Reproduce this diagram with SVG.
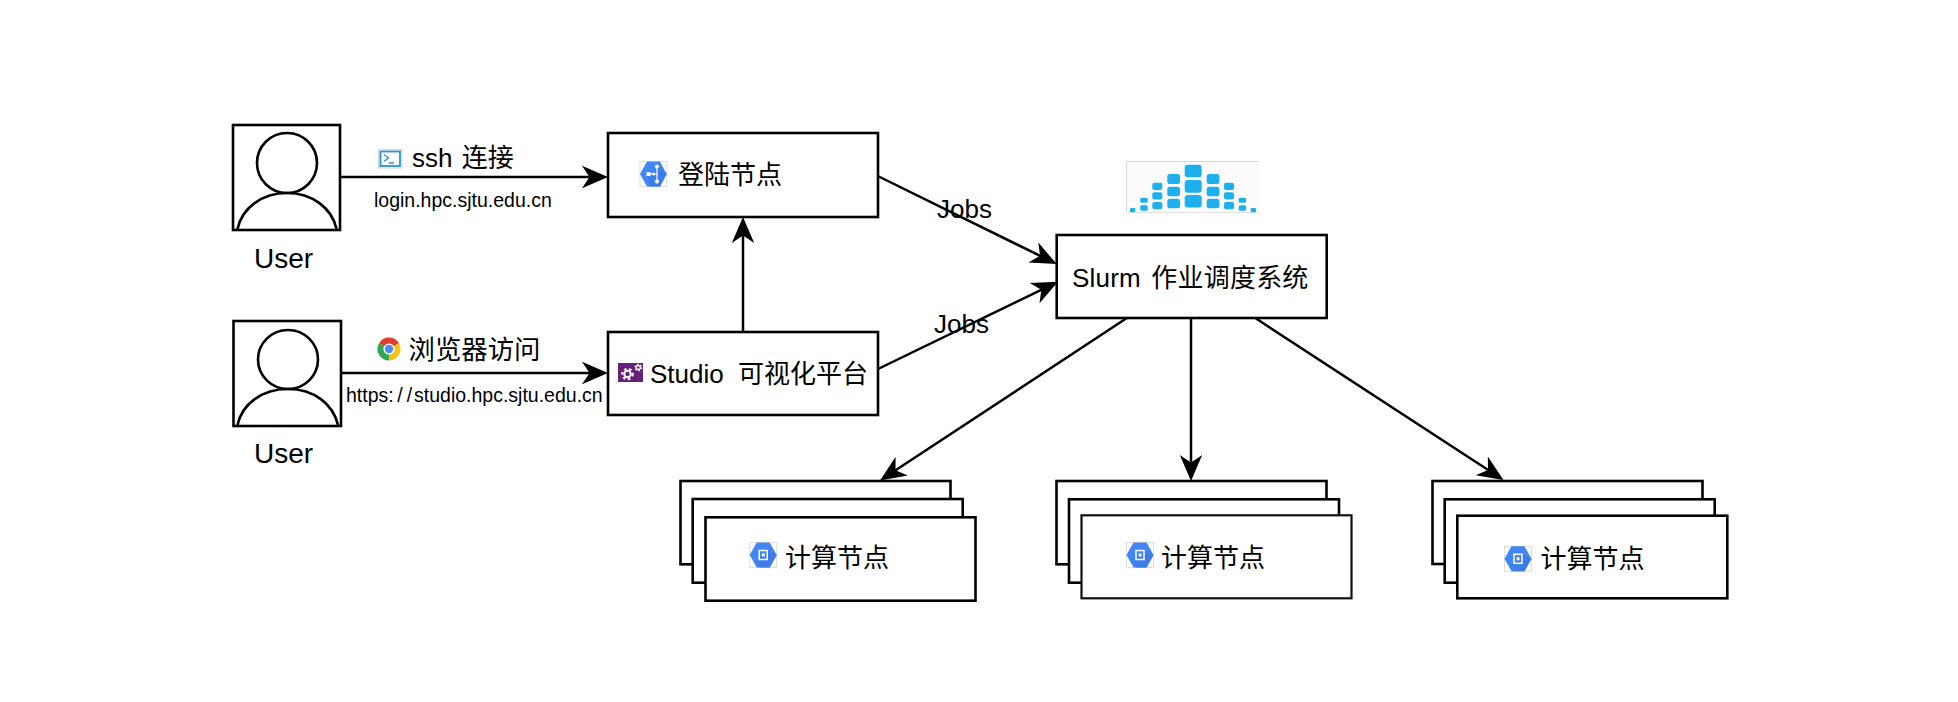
<svg xmlns="http://www.w3.org/2000/svg" width="1958" height="702" viewBox="0 0 1958 702">
<defs>
<style>
text{font-family:"Liberation Sans","Noto Sans CJK SC",sans-serif;fill:#000}
.t{font-size:26px}
.u{font-size:28px}
.s{font-size:19.5px}
.b{fill:#fff;stroke:#000;stroke-width:2.6}
.o{fill:none;stroke:#000;stroke-width:2.6}
.c{fill:none;stroke:#000;stroke-width:2.5;marker-end:url(#ah)}
.hex{fill:#4285f4}
.ib{fill:#fff;stroke:#ddd;stroke-width:1}
.sl{fill:#1cb0ec}
</style>
<marker id="ah" markerUnits="userSpaceOnUse" markerWidth="26" markerHeight="24" viewBox="0 0 26 24" refX="21" refY="12" orient="auto">
<path d="M26 12L0 .8 7.5 12 0 23.2Z" fill="#000"/>
</marker>
<g id="chipIcon">
<rect class="ib" x="0" y="0" width="27" height="25"/>
<path class="hex" d="M0 12.5L7 0H20L27 12.5 20 25H7Z"/>
<path d="M27 12.5L20 25H10L7 17 19 8Z" fill="#3f7de6"/>
<rect x="9.5" y="8" width="8" height="9" fill="none" stroke="#fff" stroke-width="1.5"/>
<rect x="12.2" y="11" width="2.8" height="3" fill="#fff"/>
</g>
</defs>
<rect width="1958" height="702" fill="#fff"/>

<g id="connectors">
<line class="c" x1="340" y1="177" x2="603" y2="177"/>
<line class="c" x1="341" y1="373" x2="603" y2="373"/>
<line class="c" x1="743" y1="332" x2="743" y2="222"/>
<line class="c" x1="877.7" y1="176" x2="1052.2" y2="261.8"/>
<line class="c" x1="878" y1="369" x2="1053.5" y2="283.9"/>
</g>

<g id="user1">
<rect class="b" x="233" y="125" width="107" height="105"/>
<ellipse class="o" cx="287" cy="163" rx="30" ry="30"/>
<path class="o" d="M237.500 229C242 208 262 193 287 193S332 208 336.500 229"/>
<text class="u" x="254" y="268">User</text>
</g>
<g id="user2">
<rect class="b" x="233.500" y="321" width="107.500" height="105"/>
<ellipse class="o" cx="288" cy="359.500" rx="30" ry="29.500"/>
<path class="o" d="M237.500 425C242 404 262 389 288 389S333 404 338 425"/>
<text class="u" x="254" y="463">User</text>
</g>

<g id="ssh-label">
<rect x="378.500" y="149.500" width="23.500" height="18.500" fill="#f3f8fd" stroke="#d5d5d5" stroke-width="1"/>
<rect x="380.500" y="151.500" width="19.500" height="14.500" fill="#fff" stroke="#2b8fd8" stroke-width="1.800"/>
<path d="M384 154.500L388.500 158 384 161.500M389 163H394" fill="none" stroke="#2b8fd8" stroke-width="1.300"/>
<text class="t" x="412" y="167">ssh <tspan dx="2">连接</tspan></text>
<text class="s" x="374" y="207">login.hpc.sjtu.edu.cn</text>
</g>
<g id="browser-label">
<path d="M389 349L379.040 343.250A11.500 11.500 0 0 1 398.960 343.250Z" fill="#e33b2e"/>
<path d="M389 349L398.960 343.250A11.500 11.500 0 0 1 389 360.500Z" fill="#f9c21b"/>
<path d="M389 349L389 360.500A11.500 11.500 0 0 1 379.040 343.250Z" fill="#2fa84f"/>
<circle cx="389" cy="349" r="5.600" fill="#fff"/>
<circle cx="389" cy="349" r="4.200" fill="#4a8cf0"/>
<text class="t" x="408.500" y="359" style="font-size:26.400px">浏览器访问</text>
<text class="s" x="346" y="402">https:<tspan dx="3.500">/</tspan><tspan dx="4">/</tspan><tspan dx="2">studio.hpc.sjtu.edu.cn</tspan></text>
</g>

<g id="login-node">
<rect class="b" x="608" y="133" width="270" height="84"/>
<rect class="ib" x="640" y="161.500" width="26.700" height="25"/>
<path class="hex" d="M640 174L647 161.500H660L666.700 174 660 186.500H647Z"/>
<path d="M647 172L654 174 658 165 666.700 174 660 186.500H650Z" fill="#3f7de6"/>
<path d="M649 174H657M657 167.500V180.500" fill="none" stroke="#fff" stroke-width="1.200"/>
<rect x="646.500" y="172" width="4" height="4" fill="#fff"/>
<circle cx="653.500" cy="174" r="1.500" fill="#fff"/>
<circle cx="657" cy="166.500" r="2" fill="#fff"/>
<circle cx="657" cy="181.500" r="2" fill="#fff"/>
<text class="t" x="678" y="184">登陆节点</text>
</g>

<g id="studio-node">
<rect class="b" x="608" y="332" width="270" height="83"/>
<rect x="618" y="363" width="25" height="19" fill="#68217a"/>
<circle cx="627.500" cy="374" r="3.200" fill="none" stroke="#fff" stroke-width="2"/>
<circle cx="627.500" cy="374" r="5.200" fill="none" stroke="#fff" stroke-width="2" stroke-dasharray="2.500 2.600"/>
<circle cx="638.300" cy="367.500" r="2" fill="none" stroke="#fff" stroke-width="1.300"/>
<circle cx="638.300" cy="367.500" r="3.200" fill="none" stroke="#fff" stroke-width="1.300" stroke-dasharray="1.700 1.650"/>
<text class="t" x="650" y="383">Studio <tspan dx="7">可视化平台</tspan></text>
</g>

<g id="slurm-node">
<path d="M1126.500 212V161.500H1258.500" fill="#fbfbfb" stroke="#d8d8d8" stroke-width="1"/>
<rect x="1127" y="162" width="132" height="50" fill="#fbfbfb"/>
<path d="M1126.500 212.500H1258.500" stroke="#e0e0e0" stroke-width="1"/>
<g class="sl">
<rect x="1184.700" y="164.700" width="17" height="12.500" rx="3"/>
<rect x="1184.700" y="180" width="17" height="12.700" rx="3"/>
<rect x="1184.700" y="195" width="17" height="12.500" rx="3"/>
<rect x="1167.300" y="174" width="12.700" height="10" rx="2.500"/>
<rect x="1167.300" y="186.700" width="12.700" height="9.500" rx="2.500"/>
<rect x="1167.300" y="198.700" width="12.700" height="9.500" rx="2.500"/>
<rect x="1206.700" y="174" width="12.700" height="10" rx="2.500"/>
<rect x="1206.700" y="186.700" width="12.700" height="9.500" rx="2.500"/>
<rect x="1206.700" y="198.700" width="12.700" height="9.500" rx="2.500"/>
<rect x="1152.300" y="182.700" width="10" height="7.300" rx="2"/>
<rect x="1152.300" y="192.300" width="10" height="7.300" rx="2"/>
<rect x="1152.300" y="202" width="10" height="7.300" rx="2"/>
<rect x="1224" y="182.700" width="10" height="7.300" rx="2"/>
<rect x="1224" y="192.300" width="10" height="7.300" rx="2"/>
<rect x="1224" y="202" width="10" height="7.300" rx="2"/>
<rect x="1140.300" y="197.700" width="7.400" height="5" rx="1.500"/>
<rect x="1140.300" y="205.300" width="7.400" height="5.400" rx="1.500"/>
<rect x="1238.700" y="197.700" width="7.400" height="5" rx="1.500"/>
<rect x="1238.700" y="205.300" width="7.400" height="5.400" rx="1.500"/>
<rect x="1130" y="208" width="5.300" height="4.200" rx="1"/>
<rect x="1250.700" y="208" width="5.300" height="4.200" rx="1"/>
</g>
<rect class="b" x="1056.700" y="235" width="270" height="83"/>
<text class="t" x="1072" y="287" style="letter-spacing:.2px">Slurm <tspan dx="3">作业调度系统</tspan></text>
</g>

<g id="jobs-labels">
<text class="t" x="937" y="218">Jobs</text>
<text class="t" x="934" y="333">Jobs</text>
</g>

<g id="compute-1">
<rect class="b" x="680.500" y="481" width="270" height="83.300"/>
<rect class="b" x="692.700" y="499" width="270" height="83.700"/>
<rect class="b" x="705.500" y="517.300" width="270" height="83.400"/>
<use href="#chipIcon" x="749.700" y="542.500"/>
<text class="t" x="785" y="567">计算节点</text>
</g>
<g id="compute-2">
<rect class="b" x="1056.500" y="481" width="270" height="83.300"/>
<rect class="b" x="1069" y="499.300" width="270" height="83.400"/>
<rect class="b" x="1081.500" y="515.300" width="270" height="83" style="stroke:#111;stroke-width:2.200"/>
<use href="#chipIcon" x="1126.500" y="542.500"/>
<text class="t" x="1161" y="567">计算节点</text>
</g>
<g id="compute-3">
<rect class="b" x="1432.500" y="481" width="270" height="83"/>
<rect class="b" x="1444.700" y="499.300" width="270" height="83.400"/>
<rect class="b" x="1457.300" y="515.700" width="270" height="82.600"/>
<use href="#chipIcon" x="1504.500" y="546.300"/>
<text class="t" x="1540.500" y="568">计算节点</text>
</g>

<g id="connectors-down">
<line class="c" x1="1126.500" y1="318.300" x2="884.200" y2="477.700"/>
<line class="c" x1="1191" y1="318" x2="1191" y2="476"/>
<line class="c" x1="1255.700" y1="318.300" x2="1499.300" y2="477.300"/>
</g>
</svg>
